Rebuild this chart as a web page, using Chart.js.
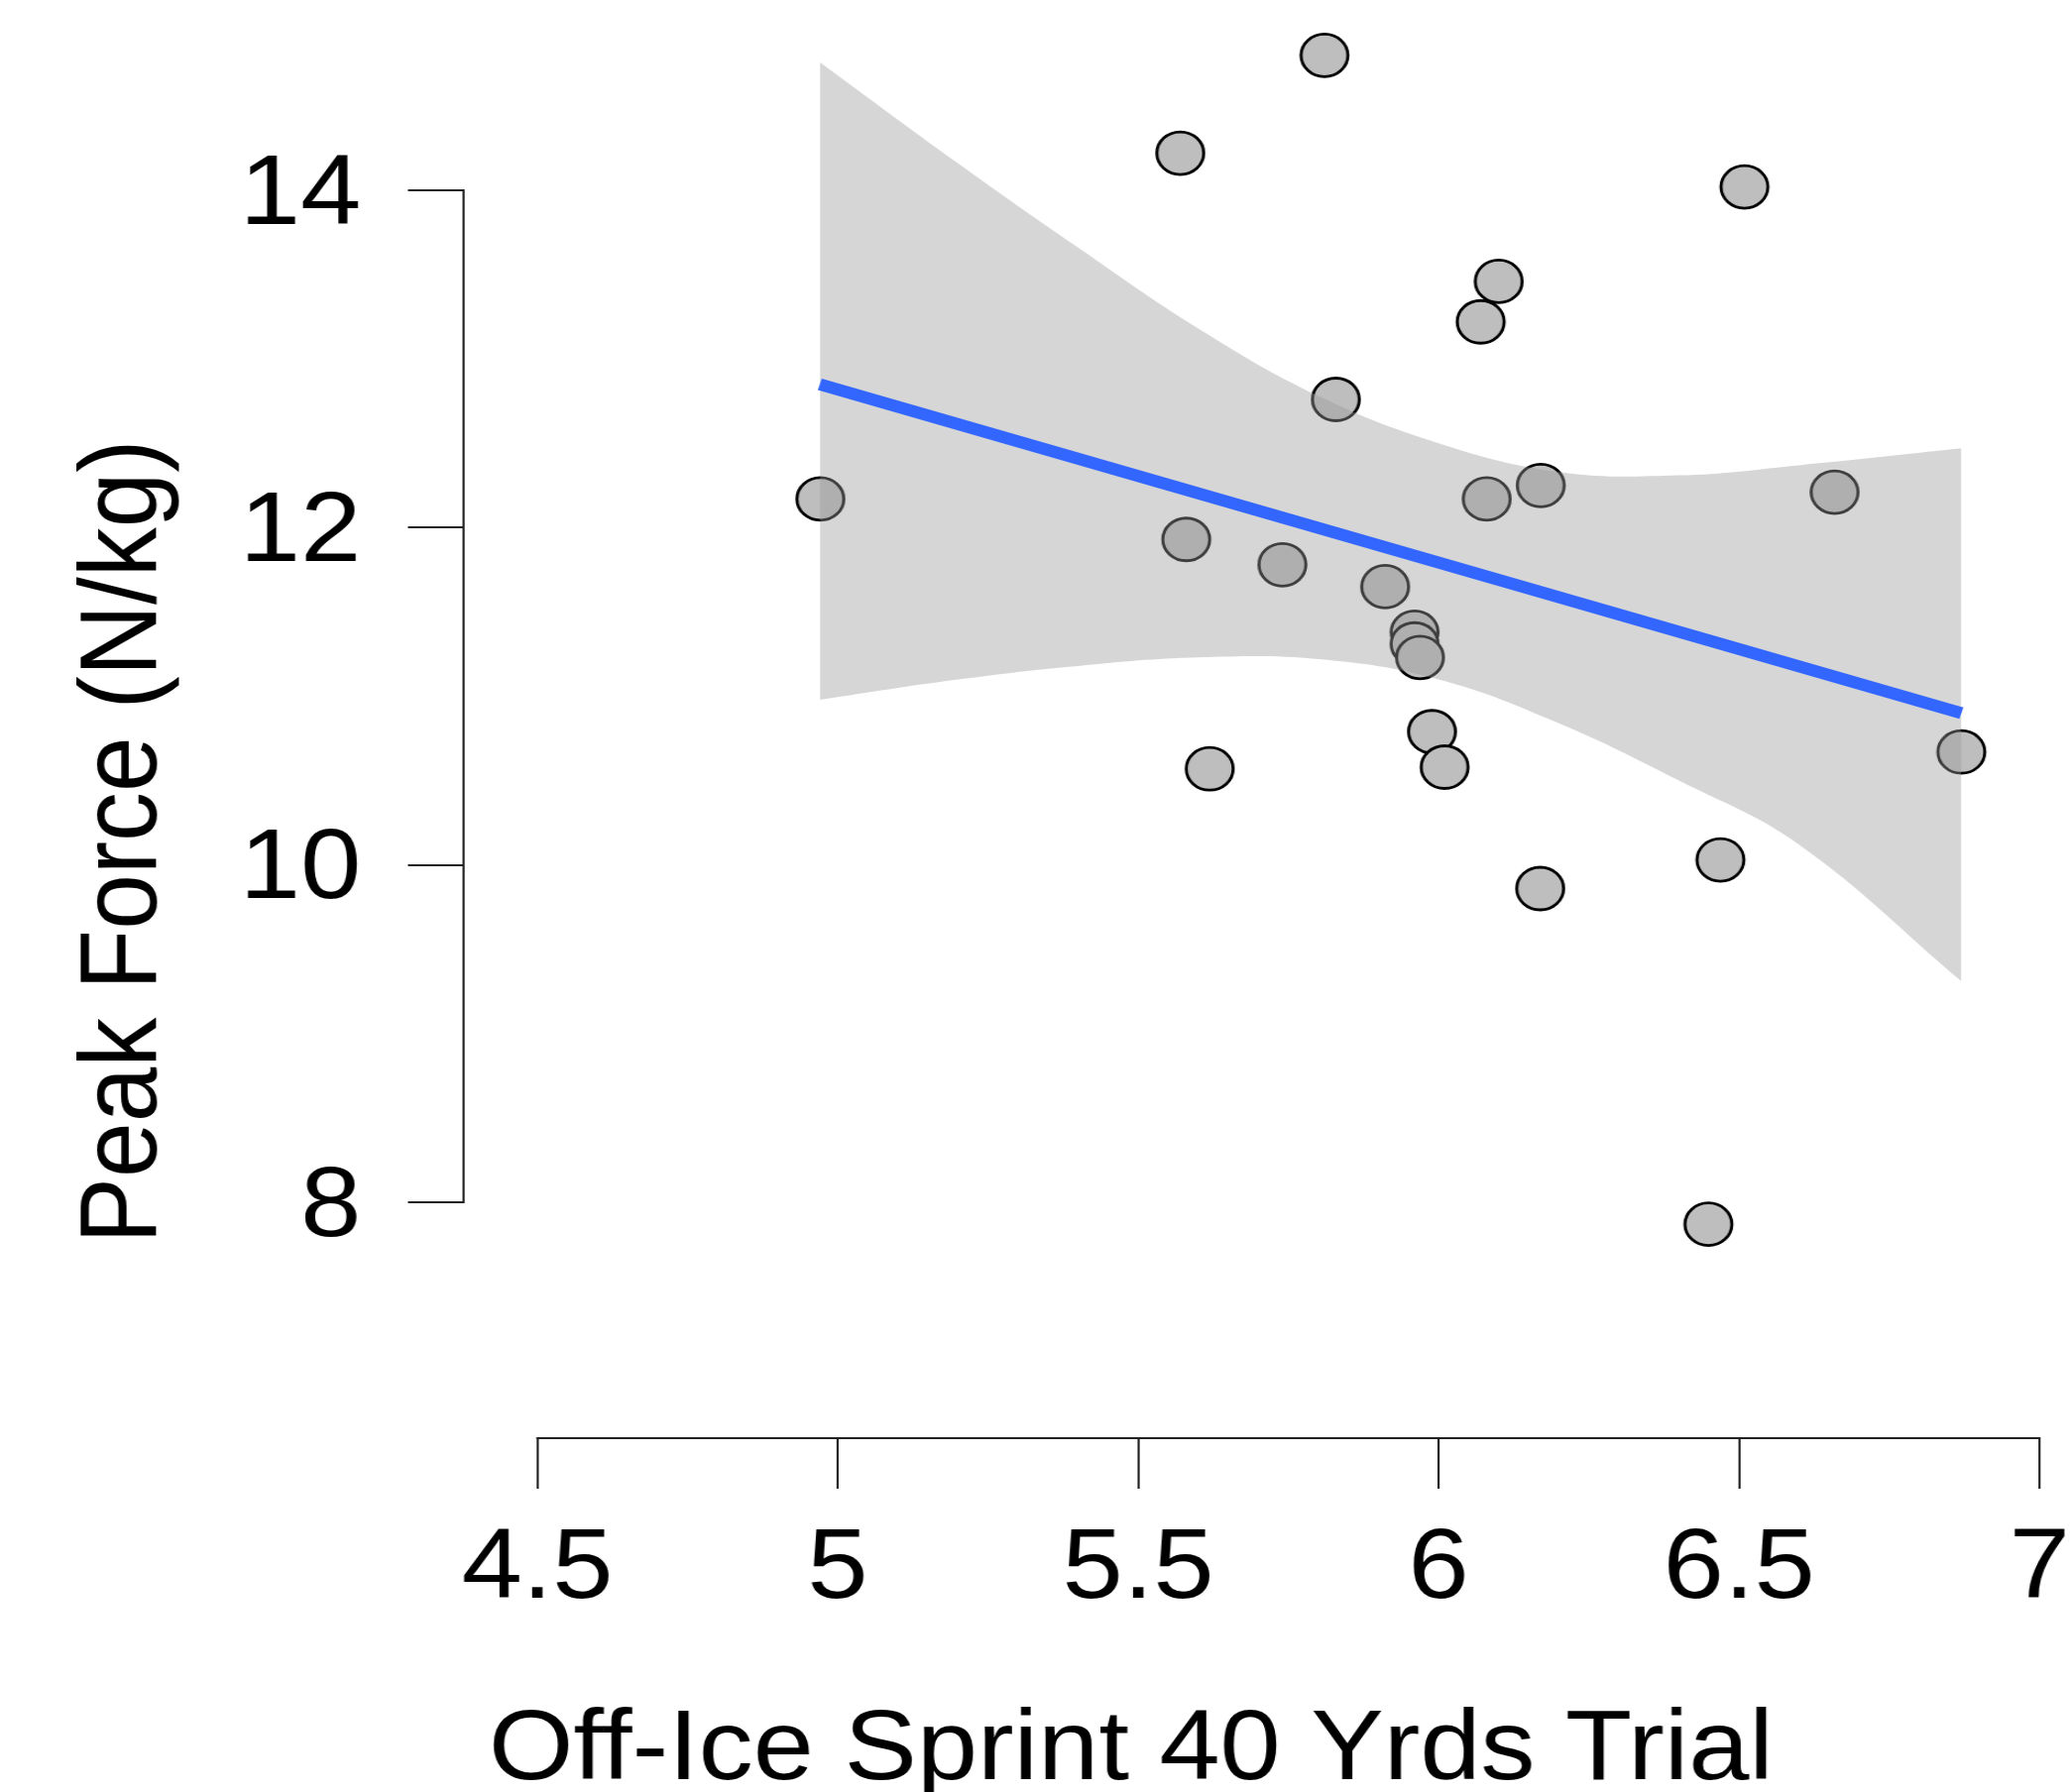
<!DOCTYPE html>
<html>
<head>
<meta charset="utf-8">
<style>
  html, body { margin: 0; padding: 0; background: #ffffff; overflow: hidden; }
  #wrap { width: 1898px; height: 1808px; transform: scaleX(1.1001); transform-origin: 0 0; }
  canvas { display: block; }
</style>
<script src="https://cdn.jsdelivr.net/npm/chart.js@4.4.1/dist/chart.umd.min.js"></script>
</head>
<body>
<div id="wrap"><canvas id="c" width="1898" height="1808"></canvas></div>
<script>
// ---------------- data ----------------
const sprintTimes = [4.971, 5.810, 5.570, 6.509, 6.100, 6.070, 5.829, 6.080, 6.170, 6.659,
                     5.580, 5.740, 5.911, 5.960, 5.960, 5.969, 5.989, 6.010, 5.619, 6.870,
                     6.469, 6.169, 6.449];
const peakForce   = [12.17, 14.80, 14.22, 14.02, 13.46, 13.22, 12.76, 12.17, 12.25, 12.21,
                     11.93, 11.78, 11.65, 11.38, 11.31, 11.23, 10.79, 10.58, 10.57, 10.67,
                     10.03, 9.86, 7.87];

const fitX = [4.97, 6.87];
const fitY = [12.85, 10.90];

const bandX     = [4.97, 5.2, 5.4, 5.6, 5.8, 6.0, 6.2, 6.4, 6.6, 6.87];
const bandUpper = [14.76, 14.16, 13.66, 13.18, 12.78, 12.50, 12.33, 12.31, 12.37, 12.47];
const bandLower = [10.98, 11.10, 11.18, 11.23, 11.22, 11.10, 10.84, 10.50, 10.12, 9.31];

const xTickValues = [4.5, 5, 5.5, 6, 6.5, 7];
const xTickLabels = ['4.5', '5', '5.5', '6', '6.5', '7'];
const yTickValues = [8, 10, 12, 14];
const yTickLabels = ['8', '10', '12', '14'];

const xTitle = 'Off-Ice Sprint 40 Yrds Trial';
const yTitle = 'Peak Force (N/kg)';

// ---------------- styling ----------------
const FONT = "'Liberation Sans', Arial, Helvetica, sans-serif";
const AXIS_COLOR = '#222222';
Chart.defaults.font.family = FONT;
Chart.defaults.color = '#000';

// R-style axes (lines only over the tick range) and axis titles
const rAxesPlugin = {
  id: 'rAxes',
  afterDraw(chart) {
    const { ctx, chartArea: ca } = chart;
    const xs = chart.scales.x, ys = chart.scales.y;
    ctx.save();
    ctx.strokeStyle = AXIS_COLOR;
    ctx.lineWidth = 2;
    ctx.lineCap = 'butt';
    ctx.beginPath();
    const ax = Math.round(ca.left);
    ctx.moveTo(ax, ys.getPixelForValue(yTickValues[0]) + 1);
    ctx.lineTo(ax, ys.getPixelForValue(yTickValues[yTickValues.length - 1]) - 1);
    const ay = Math.round(ca.bottom);
    ctx.moveTo(xs.getPixelForValue(xTickValues[0]) - 1, ay);
    ctx.lineTo(xs.getPixelForValue(xTickValues[xTickValues.length - 1]) + 1, ay);
    ctx.stroke();

    ctx.fillStyle = '#000';
    ctx.font = '100px ' + FONT;
    ctx.textAlign = 'center';
    ctx.textBaseline = 'alphabetic';
    ctx.fillText(xTitle, 1037, 1795);

    ctx.translate(143, 849);
    ctx.rotate(-Math.PI / 2);
    ctx.fillText(yTitle, 0, 0);
    ctx.restore();
  }
};

new Chart(document.getElementById('c'), {
  type: 'scatter',
  data: {
    datasets: [
      {
        label: 'Players',
        data: sprintTimes.map((x, i) => ({ x, y: peakForce[i] })),
        pointRadius: 21.5,
        pointBorderWidth: 2.8,
        pointBackgroundColor: '#bebebe',
        pointBorderColor: '#000000',
        clip: false,
        order: 3
      },
      {
        type: 'line',
        label: 'CI upper',
        data: bandX.map((x, i) => ({ x, y: bandUpper[i] })),
        borderColor: 'rgba(0,0,0,0)',
        borderWidth: 0,
        pointRadius: 0,
        fill: '+1',
        backgroundColor: 'rgba(153,153,153,0.4)',
        tension: 0.4,
        order: 2
      },
      {
        type: 'line',
        label: 'CI lower',
        data: bandX.map((x, i) => ({ x, y: bandLower[i] })),
        borderColor: 'rgba(0,0,0,0)',
        borderWidth: 0,
        pointRadius: 0,
        fill: false,
        tension: 0.4,
        order: 2
      },
      {
        type: 'line',
        label: 'Linear fit',
        data: fitX.map((x, i) => ({ x, y: fitY[i] })),
        borderColor: '#3366FF',
        borderWidth: 12,
        borderCapStyle: 'butt',
        pointRadius: 0,
        fill: false,
        order: 1
      }
    ]
  },
  options: {
    responsive: false,
    animation: false,
    devicePixelRatio: 1,
    events: [],
    layout: { autoPadding: false, padding: { left: 0, top: 0, right: 28, bottom: 0 } },
    plugins: {
      legend: { display: false },
      tooltip: { enabled: false },
      title: { display: false }
    },
    scales: {
      x: {
        type: 'linear',
        bounds: 'data',
        min: 4.3771,
        max: 7,
        afterBuildTicks: s => { s.ticks = xTickValues.map(v => ({ value: v })); },
        afterFit: s => { s.height = 357; s.paddingLeft = 0; s.paddingRight = 0; },
        grid: { display: true, drawOnChartArea: false, drawTicks: true, tickLength: 51, color: AXIS_COLOR, lineWidth: 2 },
        border: { display: false },
        ticks: {
          autoSkip: false, maxRotation: 0, minRotation: 0, padding: 22, color: '#000',
          font: { size: 100 },
          callback: (v, i) => xTickLabels[i]
        },
        title: { display: false }
      },
      y: {
        type: 'linear',
        bounds: 'data',
        min: 6.6015,
        max: 15.1283,
        afterBuildTicks: s => { s.ticks = yTickValues.map(v => ({ value: v })); },
        afterFit: s => { s.width = 425; s.paddingTop = 0; s.paddingBottom = 0; },
        grid: { display: true, drawOnChartArea: false, drawTicks: true, tickLength: 51, color: AXIS_COLOR, lineWidth: 2 },
        border: { display: false },
        ticks: {
          autoSkip: false, padding: 43, labelOffset: 6, color: '#000',
          font: { size: 100 },
          callback: (v, i) => yTickLabels[i]
        },
        title: { display: false }
      }
    }
  },
  plugins: [rAxesPlugin]
});
</script>
</body>
</html>
